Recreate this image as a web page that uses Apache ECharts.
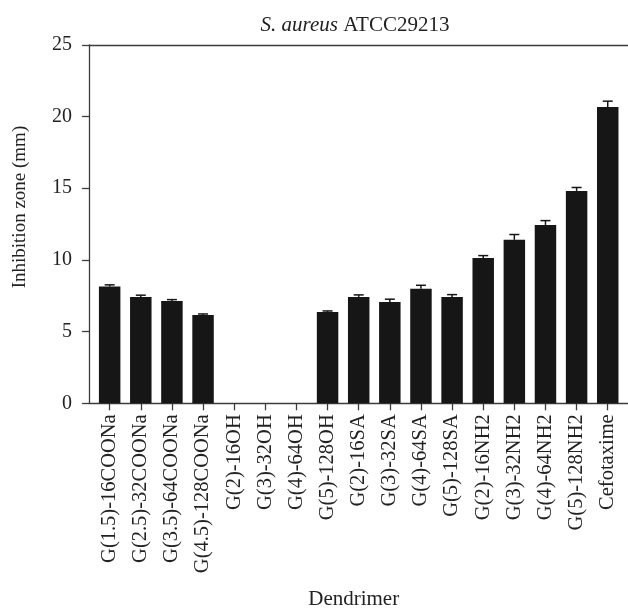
<!DOCTYPE html>
<html>
<head>
<meta charset="utf-8">
<script src="https://cdn.jsdelivr.net/npm/echarts@6/dist/echarts.min.js"></script>
<style>
  html, body { margin: 0; padding: 0; background: #fff; }
  #chart { width: 628px; height: 609px; }
</style>
</head>
<body>
<div id="chart"></div>
<script>
const categories = [
  'G(1.5)-16COONa', 'G(2.5)-32COONa', 'G(3.5)-64COONa', 'G(4.5)-128COONa',
  'G(2)-16OH', 'G(3)-32OH', 'G(4)-64OH', 'G(5)-128OH',
  'G(2)-16SA', 'G(3)-32SA', 'G(4)-64SA', 'G(5)-128SA',
  'G(2)-16NH2', 'G(3)-32NH2', 'G(4)-64NH2', 'G(5)-128NH2', 'Cefotaxime'
]
const inhibition = [8.14, 7.42, 7.14, 6.16, 0, 0, 0, 6.37, 7.42, 7.07, 7.98, 7.42, 10.14, 11.40, 12.44, 14.81, 20.66]
const errors = [0.12, 0.12, 0.09, 0.07, 0, 0, 0, 0.07, 0.14, 0.19, 0.25, 0.16, 0.16, 0.37, 0.30, 0.24, 0.41]
const yTicks = [0, 5, 10, 15, 20, 25]

const font = 'Liberation Serif'
const ink = '#161616'
const textColor = '#222'
const axisColor = '#3c3c3c'

const chart = echarts.init(document.getElementById('chart'))

// error bars: stem + cap above each bar
function renderError(params, api) {
  const i = api.value(0)
  const v = api.value(1)
  const e = api.value(2)
  if (!e) return null
  const base = api.coord([i, v])
  const top = api.coord([i, v + e])
  const half = 5
  const style = { stroke: ink, lineWidth: 1.5 }
  return {
    type: 'group',
    children: [
      { type: 'line', shape: { x1: base[0], y1: base[1], x2: top[0], y2: top[1] }, style },
      { type: 'line', shape: { x1: top[0] - half, y1: top[1], x2: top[0] + half, y2: top[1] }, style }
    ]
  }
}

const option = {
  animation: false,
  title: {
    text: '{i|S. aureus} ATCC29213',
    left: 350,
    top: 10,
    textAlign: 'center',
    textStyle: {
      fontFamily: font,
      fontSize: 21,
      fontWeight: 'normal',
      color: textColor,
      rich: { i: { fontStyle: 'italic', fontFamily: font, fontSize: 21, color: textColor } }
    }
  },
  grid: [
    { left: 94.1, right: 4.7, top: 44.8, bottom: 205.7, outerBoundsMode: 'none' },
    { left: 89, right: 0, top: 44.8, bottom: 205.7, outerBoundsMode: 'none' }
  ],
  xAxis: [
    {
      type: 'category',
      gridIndex: 0,
      data: categories,
      axisLine: { show: false },
      axisTick: { show: true, alignWithLabel: true, length: 7, lineStyle: { color: axisColor, width: 1.3 } },
      axisLabel: {
        rotate: 90,
        interval: 0,
        margin: 11,
        fontFamily: font,
        fontSize: 20.5,
        color: textColor
      },
      name: 'Dendrimer',
      nameLocation: 'middle',
      nameGap: 186,
      nameTextStyle: { fontFamily: font, fontSize: 21, color: textColor, padding: [0, 10, 0, 0] }
    },
    {
      type: 'value',
      gridIndex: 1,
      min: 0,
      max: 1,
      position: 'bottom',
      axisLine: { show: true, lineStyle: { color: axisColor, width: 1.3 } },
      axisTick: { show: false },
      axisLabel: { show: false },
      splitLine: { show: false }
    },
    {
      type: 'value',
      gridIndex: 1,
      min: 0,
      max: 1,
      position: 'top',
      axisLine: { show: true, lineStyle: { color: axisColor, width: 1.3 } },
      axisTick: { show: false },
      axisLabel: { show: false },
      splitLine: { show: false }
    }
  ],
  yAxis: [
    {
      type: 'value',
      gridIndex: 0,
      min: yTicks[0],
      max: yTicks[yTicks.length - 1],
      interval: 5,
      offset: 5,
      axisLine: { show: true, lineStyle: { color: axisColor, width: 1.3 } },
      axisTick: { show: true, length: 7, lineStyle: { color: axisColor, width: 1.3 } },
      axisLabel: { margin: 17, fontFamily: font, fontSize: 20, color: textColor },
      splitLine: { show: false },
      name: 'Inhibition zone (mm)',
      nameLocation: 'middle',
      nameGap: 60,
      nameTextStyle: { fontFamily: font, fontSize: 19, color: textColor, padding: [0, 0, 0, 34] }
    },
    {
      type: 'value',
      gridIndex: 1,
      show: false
    }
  ],
  series: [
    {
      type: 'bar',
      xAxisIndex: 0,
      yAxisIndex: 0,
      data: inhibition,
      barWidth: '69%',
      itemStyle: { color: ink }
    },
    {
      type: 'custom',
      xAxisIndex: 0,
      yAxisIndex: 0,
      renderItem: renderError,
      data: inhibition.map((v, i) => [i, v, errors[i]]),
      z: 3
    }
  ]
}

chart.setOption(option)
</script>
</body>
</html>
